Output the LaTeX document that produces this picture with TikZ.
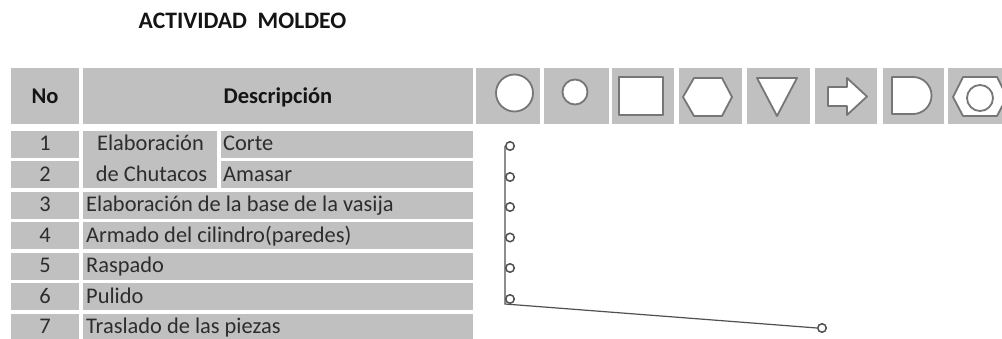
\documentclass[tikz,border=0pt]{standalone}
\usepackage{fontspec}
\setmainfont{Carlito}
\definecolor{cellgray}{RGB}{192,192,192}
\definecolor{shapeline}{RGB}{118,118,118}
\definecolor{txt}{RGB}{45,45,45}
\definecolor{hdr}{RGB}{20,20,20}
\definecolor{flow}{RGB}{80,80,80}
\begin{document}
\begin{tikzpicture}[x=1pt,y=-1pt,
  cell/.style={fill=cellgray},
  shp/.style={draw=shapeline, fill=white, line width=1.8pt, line join=round},
  body/.style={font=\fontsize{22.4}{25}\selectfont, text=txt, inner sep=0pt, anchor=base},
  bodyw/.style={body, anchor=base west},
  head/.style={font=\fontsize{22.5}{25}\selectfont\bfseries, text=hdr, inner sep=0pt, anchor=base},
  titlestyle/.style={font=\fontsize{23.6}{27}\selectfont\bfseries, text=hdr, inner sep=0pt, anchor=base},
  fc/.style={circle, draw=flow, fill=white, line width=1.5pt, minimum size=8.5pt, inner sep=0pt},
  flowline/.style={draw=flow, line width=1.2pt}]
\useasboundingbox (0,0) rectangle (1002,339);
\clip (0,0) rectangle (1002,339);

% title
\node[titlestyle] (title) at (242.5,28.5) {ACTIVIDAD\ \ MOLDEO};

% header cells
\path[cell] (11,68) rectangle (79,124);
\path[cell] (83,68) rectangle (473,124);
\path[cell] (476,68) rectangle (540,124);
\path[cell] (544,68) rectangle (609,124);
\path[cell] (612,68) rectangle (674,124);
\path[cell] (679,68) rectangle (742,124);
\path[cell] (747,68) rectangle (810,124);
\path[cell] (815,68) rectangle (877,124);
\path[cell] (883,68) rectangle (944,124);
\path[cell] (948,68) rectangle (1010,124);
\node[head] (hno) at (45,103.5) {No};
\node[head] (hdesc) at (278,103.5) {Descripción};

% header symbols
\draw[shp] (514.5,93) circle (18.5);
\draw[shp] (575,92) circle (12.5);
\draw[shp] (619,77) rectangle (663,115);
\draw[shp] (683,97) -- (694,78) -- (722,78) -- (732,97) -- (722,116) -- (694,116) -- cycle;
\draw[shp] (757,78) -- (797,78) -- (777,116) -- cycle;
\draw[shp] (828,87) -- (847,87) -- (847,78) -- (867,96.5) -- (847,115) -- (847,106) -- (828,106) -- cycle;
\draw[shp] (892,77) -- (913,77) arc[start angle=90, end angle=-90, radius=18.5pt] -- (892,114) -- cycle;
\draw[shp] (953,97) -- (963,77) -- (997,77) -- (1007,97) -- (997,116) -- (963,116) -- cycle;
\draw[shp] (980,98) circle (13);

% body rows
\foreach \t in {131,161.5,192,222.5,253,283.5,314}{
  \path[cell] (11,\t) rectangle (79,\t+27);
}
\path[cell] (83,131) rectangle (217,188.5);
\path[cell] (221,131) rectangle (473,158);
\path[cell] (221,161.5) rectangle (473,188.5);
\foreach \t in {192,222.5,253,283.5,314}{
  \path[cell] (83,\t) rectangle (473,\t+27);
}

\node[body] (n1) at (45,151) {1};
\node[body] (n2) at (45,181.5) {2};
\node[body] (n3) at (45,212) {3};
\node[body] (n4) at (45,242.5) {4};
\node[body] (n5) at (45,273) {5};
\node[body] (n6) at (45,303.5) {6};
\node[body] (n7) at (45,334) {7};

\node[body] (grp1) at (150.5,151) {Elaboración};
\node[body] (grp2) at (151.5,181.5) {de Chutacos};
\node[bodyw] (d1) at (223,151) {Corte};
\node[bodyw] (d2) at (223,181.5) {Amasar};
\node[bodyw] (d3) at (86,212) {Elaboración de la base de la vasija};
\node[bodyw] (d4) at (86,242.5) {Armado del cilindro(paredes)};
\node[bodyw] (d5) at (86,273) {Raspado};
\node[bodyw] (d6) at (86,303.5) {Pulido};
\node[bodyw] (d7) at (86,334) {Traslado de las piezas};

% flow
\node[fc] (c1) at (510,146) {};
\node[fc] (c2) at (510,177) {};
\node[fc] (c3) at (510,207) {};
\node[fc] (c4) at (510,237.5) {};
\node[fc] (c5) at (510,268) {};
\node[fc] (c6) at (510,299) {};
\node[fc] (c7) at (822,328) {};
\draw[flowline] (c1.west) -- (c6.west |- c6.south) -- (c7.west);
\end{tikzpicture}
\end{document}
